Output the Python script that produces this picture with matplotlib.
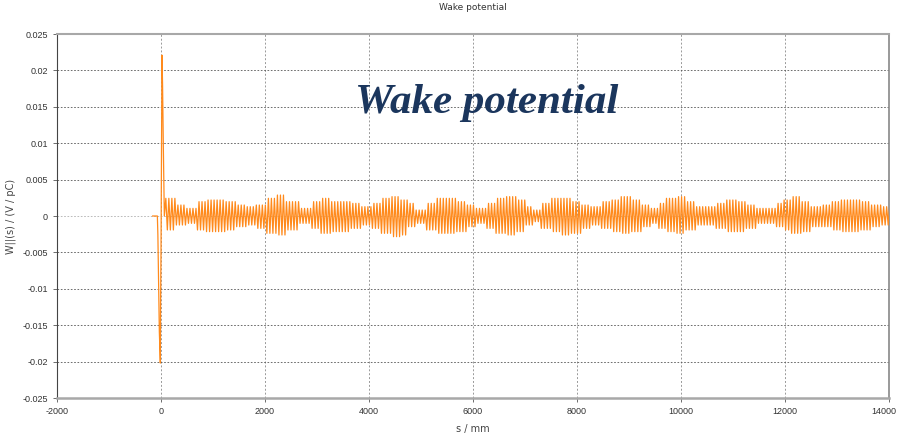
import numpy as np
import matplotlib
matplotlib.use("Agg")
import matplotlib.pyplot as plt
from matplotlib.transforms import ScaledTranslation

# start of the wake: flat, deep dip, spike, then the ringing begins
trans_s = [-160, -70, -60, -32, -13, -8, 0, 19, 30, 45, 64]
trans_v = [0, 0, -0.0026, -0.0159, -0.0202, -0.0118, -0.005, 0.0221, 0.018, 0.0095, 0.0]

# ringing envelope (upper / lower extreme, in 1e-3 V/pC)
env_s = [150, 385, 577, 769, 962, 1154, 1346, 1538, 1731, 1923, 2115, 2308,
         2500, 2790, 2980, 3173, 3365, 3558, 3750, 3942, 4135, 4327, 4519, 4712,
         4808, 5000, 5192, 5385, 5577, 5770, 5962, 6154, 6346, 6538, 6731, 6923, 7115,
         7212, 7404, 7596, 7789, 7981, 8173, 8365, 8558, 8750, 8942, 9135, 9327, 9519,
         9615, 9808, 10000, 10192, 10385, 10577, 10769, 10962, 11154, 11346, 11538, 11731, 11923,
         12019, 12212, 12404, 12596, 12789, 12981, 13173, 13365, 13558, 13750, 13942, 14100]
env_hi = [2.43, 1.51, 1.05, 1.97, 2.20, 2.20, 1.97, 1.51, 1.28, 1.51, 2.43, 2.88,
          1.97, 1.05, 1.97, 2.43, 1.97, 1.97, 1.74, 1.28, 1.74, 2.43, 2.66, 2.20,
          1.74, 0.82, 1.74, 2.43, 2.43, 1.97, 1.51, 1.05, 1.74, 2.43, 2.66, 2.20, 1.28,
          0.82, 1.74, 2.43, 2.43, 1.97, 1.51, 1.28, 1.97, 2.20, 2.66, 2.20, 1.51, 1.05,
          1.74, 2.43, 2.66, 1.97, 1.28, 1.28, 1.74, 2.20, 1.97, 1.51, 1.05, 1.05, 1.74,
          2.20, 2.66, 1.97, 1.28, 1.51, 1.97, 2.20, 2.20, 1.97, 1.51, 1.28, 1.28]
env_lo = [-1.92, -1.24, -1.01, -1.92, -2.15, -2.15, -1.92, -1.47, -1.24, -1.70, -2.38, -2.61,
          -1.92, -1.01, -1.70, -2.38, -2.15, -2.15, -1.70, -1.24, -1.70, -2.38, -2.84, -2.61,
          -1.47, -1.01, -1.92, -2.38, -2.38, -2.15, -1.47, -1.01, -1.70, -2.38, -2.61, -2.15, -1.24,
          -0.78, -1.70, -2.15, -2.61, -2.38, -1.70, -1.24, -1.70, -2.15, -2.38, -2.15, -1.47, -1.01,
          -1.70, -2.15, -2.38, -1.92, -1.24, -1.24, -1.70, -2.15, -2.15, -1.70, -1.01, -1.01, -1.47,
          -1.92, -2.38, -2.15, -1.47, -1.47, -1.92, -2.15, -2.15, -1.92, -1.47, -1.24, -1.24]
ring_period = 58  # mm, spacing of the spikes

xticks = [-2000, 0, 2000, 4000, 6000, 8000, 10000, 12000, 14000]
yticks = [-0.025, -0.02, -0.015, -0.01, -0.005, 0, 0.005, 0.01, 0.015, 0.02, 0.025]
ytick_labels = ["-0.025", "-0.02", "-0.015", "-0.01", "-0.005", "0",
                "0.005", "0.01", "0.015", "0.02", "0.025"]

# ringing: alternate between upper and lower envelope of the nearest sample
env_s_a = np.array(env_s)
ring_s = np.arange(trans_s[-1] + ring_period / 2, 14060, ring_period / 2)
idx = np.abs(ring_s[:, None] - env_s_a[None, :]).argmin(axis=1)
ring_v = np.where(np.arange(len(ring_s)) % 2 == 0,
                  np.array(env_hi)[idx], np.array(env_lo)[idx]) * 1e-3

s = np.concatenate([trans_s, ring_s])
w = np.concatenate([trans_v, ring_v])

fig = plt.figure(figsize=(9, 4.34), dpi=100)
ax = fig.add_axes([57 / 900, 36 / 434, 832 / 900, 364 / 434])

ax.plot(s, w, color="#ff8a1c", lw=0.9, zorder=3)

ax.set_xlim(-2000, 14000)
ax.set_ylim(-0.025, 0.025)
ax.set_xticks(xticks)
ax.set_xticklabels([str(t) for t in xticks], family="Liberation Sans")
ax.set_yticks(yticks)
ax.set_yticklabels(ytick_labels, family="Liberation Sans")
ax.tick_params(labelsize=6.5, labelcolor="#333333", length=3, width=0.6, color="#555555")

# keep the last x label just inside the picture
last = ax.get_xticklabels()[-1]
last.set_transform(last.get_transform() + ScaledTranslation(-3.5 / 72, 0, fig.dpi_scale_trans))

ax.grid(axis="y", color="#555555", linestyle=(0, (2, 2)), lw=0.6)
ax.grid(axis="x", color="#999999", linestyle=(0, (2, 2)), lw=0.7)
# the zero line is drawn lighter in the reference
ax.get_ygridlines()[5].set_color("#b0b0b0")

ax.spines["top"].set_color("#a8a8a8")
ax.spines["top"].set_linewidth(1.5)
ax.spines["bottom"].set_color("#a8a8a8")
ax.spines["bottom"].set_linewidth(1.8)
ax.spines["left"].set_color("#444444")
ax.spines["left"].set_linewidth(0.8)
ax.spines["right"].set_color("#888888")
ax.spines["right"].set_linewidth(1.2)

ax.set_title("Wake potential", fontsize=6.5, color="#333333", pad=17)
ax.set_xlabel("s / mm", fontsize=7, color="#444444", labelpad=6)
ax.set_ylabel("W||(s) / (V / pC)", fontsize=7, color="#444444", labelpad=5)

fig.text(0.541, 0.763, "Wake potential", family="Liberation Serif", style="italic",
         weight="bold", fontsize=31, color="#1b365d", ha="center", va="center")

fig.savefig("out.png", dpi=100)
